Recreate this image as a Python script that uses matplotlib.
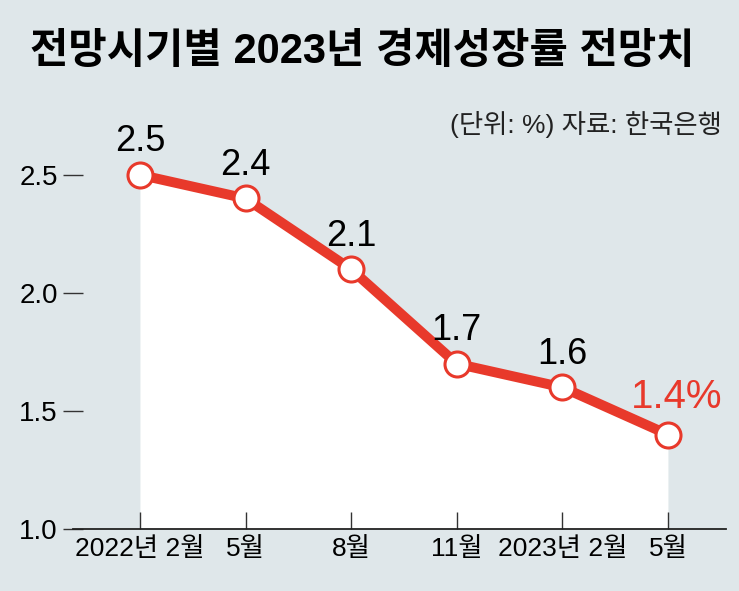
import matplotlib
matplotlib.use('Agg')
import matplotlib.pyplot as plt
from matplotlib import font_manager

# data
periods = ['2022년 2월', '5월', '8월', '11월', '2023년 2월', '5월']
growth = [2.5, 2.4, 2.1, 1.7, 1.6, 1.4]
yticks = [1.0, 1.5, 2.0, 2.5]

title = '전망시기별 2023년 경제성장률 전망치'
note = '(단위: %) 자료: 한국은행'

# fonts: narrow latin digits first if present, korean fallback
names = {f.name for f in font_manager.fontManager.ttflist}
narrow = 'Liberation Sans Narrow' if 'Liberation Sans Narrow' in names else 'Liberation Sans'
fam = [narrow, 'Noto Sans CJK KR', 'DejaVu Sans']
plt.rcParams['font.family'] = fam

bg = '#dfe7ea'
red = '#e8392b'

fig = plt.figure(figsize=(7.39, 5.91), dpi=100, facecolor=bg)
ax = fig.add_axes([73/739, 62/591, 653/739, 425/591])
ax.set_facecolor(bg)

x = list(range(len(growth)))
ax.fill_between(x, growth, 1.0, color='white', lw=0, zorder=1)
ax.plot(x, growth, color=red, lw=7.2, solid_joinstyle='round', zorder=3,
        marker='o', ms=18, mfc='white', mec=red, mew=2.2)

# value labels
for i, v in enumerate(growth):
    if i == len(growth) - 1:
        ax.annotate(f'{v}%', (i, v), xytext=(6, 19), textcoords='offset points',
                    ha='center', va='baseline', fontsize=29, color=red, zorder=5)
    else:
        ax.annotate(f'{v}', (i, v), xytext=(0, 17), textcoords='offset points',
                    ha='center', va='baseline', fontsize=26, color='black', zorder=5)

ax.set_xlim(-0.634, 5.55)
ax.set_ylim(1.0, 2.8)

ax.set_xticks(x)
ax.set_xticklabels(periods, fontsize=19)
ax.set_yticks(yticks)
ax.set_yticklabels([f'{t:.1f}' for t in yticks], fontsize=20)
ax.tick_params(axis='x', direction='in', length=12, width=1, color='#333333', pad=6)
ax.tick_params(axis='y', direction='inout', length=14, width=1, color='#333333', pad=4)

for s in ['top', 'right', 'left']:
    ax.spines[s].set_visible(False)
ax.spines['bottom'].set_color('#222222')
ax.spines['bottom'].set_linewidth(1.3)
ax.spines['bottom'].set_zorder(4)

fig.text(30/739, 1 - 52/591, title, fontsize=30, fontweight='bold',
         ha='left', va='center', family=fam)
fig.text(722/739, 1 - 125/591, note, fontsize=19, ha='right', va='center',
         color='#222222', family=fam)

plt.savefig('out.png', dpi=100, facecolor=bg)
